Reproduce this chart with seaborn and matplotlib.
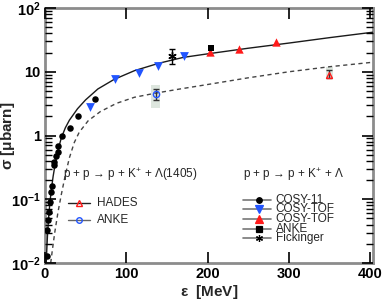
import numpy as np
import pandas as pd
import seaborn as sns
import matplotlib.pyplot as plt
from matplotlib.patches import Rectangle
from matplotlib.ticker import NullFormatter

# curves (solid: p p -> p K+ Lambda, dashed: Lambda(1405))
fit_eps = [1.5, 2, 3, 4, 5, 6.5, 8, 10, 13, 16, 20, 25, 30, 40, 50, 65, 85,
           110, 140, 170, 200, 250, 300, 350, 403]
fit_sig = [0.010, 0.0141, 0.0263, 0.0427, 0.0631, 0.100, 0.148, 0.229, 0.389,
           0.589, 0.912, 1.32, 1.74, 2.63, 3.63, 5.37, 7.59, 10.4, 13.6, 16.8,
           19.1, 23.4, 28.2, 34.3, 41.7]
ps_eps = [7, 9, 12, 16, 20, 25, 30, 36, 42, 53, 68, 88, 110, 136, 166, 200,
          250, 300, 350, 403]
ps_sig = [0.010, 0.0158, 0.0302, 0.0631, 0.1175, 0.240, 0.447, 0.776, 1.12,
          1.70, 2.37, 3.20, 3.98, 4.62, 5.37, 6.31, 8.04, 10.0, 12.0, 14.1]

# p p -> p K+ Lambda data
cosy11_eps = [2.0, 3.0, 4.0, 5.0, 6.0, 7.0, 8.0, 10.5, 11.0, 13.5, 15.5, 16.5,
              21.5, 31, 40.5, 61.5]
cosy11_sig = [0.013, 0.033, 0.047, 0.064, 0.09, 0.13, 0.16, 0.34, 0.38, 0.48,
              0.55, 0.68, 1.0, 1.33, 2.05, 3.8]
toff_eps = [55, 85.5, 115.5, 138.5, 171.5]
toff_sig = [2.85, 7.7, 9.4, 12.3, 17.7]
tofr_eps = [203, 239, 284]
tofr_sig = [20.2, 22.8, 29.8]
anke_eps = [204]
anke_sig = [23.6]
fick_eps = [156.5]
fick_sig = [17.4]
fick_err = [[4.2], [5.1]]

# p p -> p K+ Lambda(1405) data
hades_eps = [349]
hades_sig = [8.9]
hades_err = [[1.0], [1.7]]
hades_box = [345, 354, 7.6, 12.0]
ankel_eps = [136]
ankel_sig = [4.5]
ankel_err = [[0.9], [0.8]]
ankel_box = [130.5, 141.5, 2.7, 6.1]

sns.set_theme(style='ticks', rc={'xtick.direction': 'in', 'ytick.direction': 'in',
                                 'xtick.color': 'black', 'ytick.color': 'black',
                                 'xtick.top': True, 'ytick.right': True})
plt.rcParams['font.family'] = ['Liberation Sans', 'DejaVu Sans']
plt.rcParams['mathtext.fontset'] = 'custom'
plt.rcParams['mathtext.rm'] = 'Liberation Sans'
plt.rcParams['mathtext.bf'] = 'Liberation Sans:bold'
plt.rcParams['mathtext.default'] = 'regular'

fig = plt.figure(figsize=(3.82, 3.0), dpi=100)
ax = fig.add_axes([0.1178, 0.1233, 0.8579, 0.85])
ax.set_yscale('log')

# systematic boxes
for b in (hades_box, ankel_box):
    ax.add_patch(Rectangle((b[0], b[2]), b[1] - b[0], b[3] - b[2],
                           color='#dde6de', lw=0, zorder=1))

sns.lineplot(x=fit_eps, y=fit_sig, ax=ax, color='#1a1a1a', lw=1.0, sort=False, zorder=2)
sns.lineplot(x=ps_eps, y=ps_sig, ax=ax, color='#444444', lw=1.0, sort=False,
             linestyle=(0, (3, 2.5)), zorder=2)

blue = '#2255ff'
red = '#ff1a1a'
pts = [
    (cosy11_eps, cosy11_sig, 'o', 'black', 22),
    (toff_eps, toff_sig, 'v', blue, 40),
    (tofr_eps, tofr_sig, '^', red, 36),
    (anke_eps, anke_sig, 's', 'black', 24),
]
for ex, sy, mk, col, sz in pts:
    df = pd.DataFrame({'eps': ex, 'sig': sy})
    sns.scatterplot(data=df, x='eps', y='sig', ax=ax, marker=mk, color=col,
                    s=sz, linewidth=0, zorder=4)

ax.errorbar(fick_eps, fick_sig, yerr=fick_err, fmt='none', ecolor='black',
            elinewidth=1.0, capsize=2.5, zorder=3)
ax.plot(fick_eps, fick_sig, ls='none', marker=(6, 2, 0), color='black',
        ms=6, mew=1.0, zorder=4)
ax.errorbar(hades_eps, hades_sig, yerr=hades_err, fmt='none', ecolor='#333333',
            elinewidth=1.0, capsize=2.5, zorder=3)
ax.plot(hades_eps, hades_sig, ls='none', marker='^', mfc='none', mec=red,
        ms=4.5, mew=1.0, zorder=4)
ax.errorbar(ankel_eps, ankel_sig, yerr=ankel_err, fmt='none', ecolor='#333333',
            elinewidth=1.0, capsize=2.5, zorder=3)
ax.plot(ankel_eps, ankel_sig, ls='none', marker='o', mfc='none', mec=blue,
        ms=4.5, mew=1.0, zorder=4)

ax.set_xlim(0, 403)
ax.set_ylim(0.01, 100)
ax.set_xticks([0, 100, 200, 300, 400])
ax.set_xticklabels(['0', '100', '200', '300', '400'], fontsize=10.5, fontweight='bold')
ax.set_yticks([0.01, 0.1, 1, 10, 100])
ax.set_yticklabels([r'$\mathbf{10^{-2}}$', r'$\mathbf{10^{-1}}$', '1', '10',
                    r'$\mathbf{10^{2}}$'], fontsize=10.5, fontweight='bold')
decades = [0.01, 0.1, 1, 10]
ax.set_yticks([d * k for d in decades for k in range(2, 10)], minor=True)
ax.yaxis.set_minor_formatter(NullFormatter())
ax.xaxis.set_minor_locator(plt.NullLocator())
ax.set_axisbelow(False)
ax.tick_params(axis='both', which='major', direction='in', length=8, width=1.2,
               color='black', pad=3, top=True, right=True, bottom=True, left=True)
ax.tick_params(axis='y', which='minor', direction='in', length=5, width=1.0,
               color='black', left=True, right=True)
for s in ax.spines.values():
    s.set_color('#8c8c8c')
    s.set_linewidth(2)
    s.set_zorder(0.5)

ax.set_xlabel(r'$\epsilon$  [MeV]', fontsize=11, fontweight='bold', labelpad=1)
ax.set_ylabel(r'$\sigma$ [$\mu$barn]', fontsize=11, fontweight='bold')
ax.yaxis.set_label_coords(-0.085, 0.5)

# reaction labels and legends
ax.text(0.055, 0.345, r'p + p → p + K$^{+}$ + Λ(1405)',
        transform=ax.transAxes, fontsize=8.5, va='center')
ax.text(0.603, 0.345, r'p + p → p + K$^{+}$ + Λ',
        transform=ax.transAxes, fontsize=8.5, va='center')

leg1 = [('HADES', '^', 'none', red, 0.2353, '#222222'),
        ('ANKE', 'o', 'none', blue, 0.1694, '#666666')]
for lab, mk, fc, ec, yy, lc in leg1:
    ax.plot([0.070, 0.137], [yy, yy], color=lc, lw=1.0, transform=ax.transAxes)
    ax.plot([0.1035], [yy], marker=mk, mfc=fc, mec=ec, ms=4, mew=1.0,
            transform=ax.transAxes)
    ax.text(0.158, yy, lab, transform=ax.transAxes, fontsize=8.5, va='center')

leg2 = [('COSY-11', 'o', 'black', 4, 0.247),
        ('COSY-TOF', 'v', blue, 5.5, 0.2105),
        ('COSY-TOF', '^', red, 5.5, 0.1713),
        ('ANKE', 's', 'black', 4, 0.1321),
        ('Fickinger', (6, 2, 0), 'black', 5, 0.0968)]
for lab, mk, col, ms, yy in leg2:
    ax.plot([0.6033, 0.689], [yy, yy], color='#777777', lw=1.2, transform=ax.transAxes)
    ax.plot([0.654], [yy], marker=mk, color=col, ms=ms, mew=0.9,
            transform=ax.transAxes)
    ax.text(0.704, yy, lab, transform=ax.transAxes, fontsize=8.5, va='center')

fig.savefig('out.png', dpi=100)
